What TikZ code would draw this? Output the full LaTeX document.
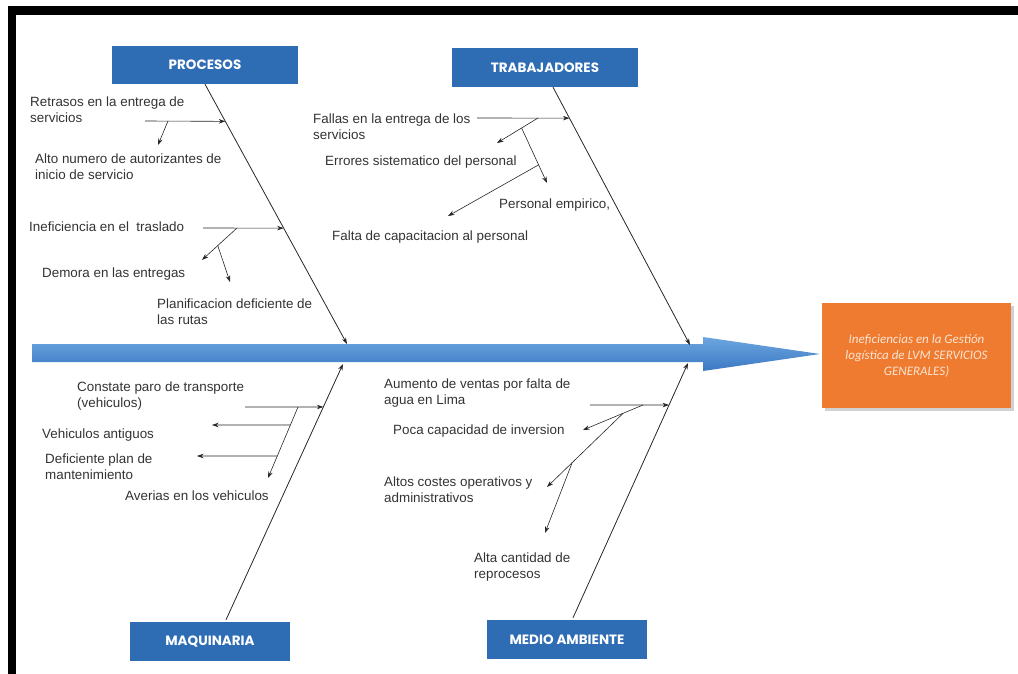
\documentclass[tikz,border=0pt]{standalone}
\usepackage{fontspec}
\setmainfont{Liberation Sans}
\newfontfamily\headfont{Poppins}
\newfontfamily\effectfont{Carlito}
\usetikzlibrary{arrows.meta,calc}
\definecolor{hdrblue}{HTML}{2E6DB4}
\definecolor{efforange}{HTML}{EE7B30}
\definecolor{spinetop}{HTML}{6DA6E0}
\definecolor{spinebot}{HTML}{3A78C2}
\definecolor{labelgray}{HTML}{333333}
\definecolor{efftext}{HTML}{FCE4D2}
\tikzset{
  hdr/.style={fill=hdrblue, text=white, inner sep=0pt, minimum width=186pt, minimum height=38pt,
    font=\headfont\bfseries\fontsize{13.5}{15}\selectfont},
  lbl/.style={anchor=north west, inner sep=0pt, align=left, text=labelgray,
    font=\fontsize{13.4}{15.5}\selectfont},
  arr/.style={-{Stealth[length=6.5pt,width=4.5pt]}, line width=0.6pt, draw=black!85},
  bone/.style={-{Stealth[length=6.5pt,width=4.5pt]}, line width=0.8pt, draw=black!85},
}
\begin{document}
\begin{tikzpicture}[x=1pt,y=-1pt]
\useasboundingbox (0,0) rectangle (1018,674);
% frame
\fill[black] (8,6) rectangle (1018,15);
\fill[black] (8,6) rectangle (16,674);

% spine arrow
\shade[top color=spinetop, bottom color=spinebot]
  (32,344) -- (703,344) -- (703,337) -- (820,354) -- (703,371) -- (703,362) -- (32,362) -- cycle;

% header boxes
\node[hdr] (proc) at (205,65) {PROCESOS};
\node[hdr, minimum height=39pt] (trab) at (545,67.5) {TRABAJADORES};
\node[hdr, minimum width=160pt, minimum height=39pt] (maq) at (210,641.5) {MAQUINARIA};
\node[hdr, minimum width=160pt, minimum height=39pt] (med) at (567,639.5) {MEDIO AMBIENTE};

% effect box
\fill[black!18] (825,306) rectangle (1014,411);
\node[fill=efforange, text=efftext, minimum width=189pt, minimum height=105pt, inner sep=0pt,
  align=center, font=\effectfont\itshape\fontsize{13}{16}\selectfont] (eff) at (916.5,355.5)
  {Ineficiencias en la Gestión\\logística de LVM SERVICIOS\\GENERALES)};

% spine coordinates
\coordinate (sp1) at (347,344);
\coordinate (sp2) at (690,345);
\coordinate (sp3) at (343,364);
\coordinate (sp4) at (688,363);
\coordinate (tS) at ($(trab.south)+(8,0)$);
\coordinate (mS) at ($(maq.north)+(16,-2)$);
\coordinate (aS) at ($(med.north)+(6,-2)$);

% bones
\draw[bone] (proc.south) -- (sp1);
\draw[bone] (tS) -- (sp2);
\draw[bone] (mS) -- (sp3);
\draw[bone] (aS) -- (sp4);

% ---------- PROCESOS ----------
\node[lbl] (l1) at (30,97) {Retrasos en la entrega de\\servicios};
\node[lbl] (l2) at (35,154) {Alto numero de autorizantes de\\inicio de servicio};
\node[lbl] (l3) at (29,222) {Ineficiencia en el\ \ traslado};
\node[lbl] (l4) at (42,268) {Demora en las entregas};
\node[lbl] (l5) at (157,299) {Planificacion deficiente de\\las rutas};

\coordinate (p1) at ($(proc.south)!0.143!(sp1)$);
\coordinate (p1s) at (145,121);
\coordinate (p1b) at (168,121);
\coordinate (p1e) at (158,145);
\draw[arr] (p1s) -- (p1);
\draw[arr] (p1b) -- (p1e);

\coordinate (p2) at ($(proc.south)!0.554!(sp1)$);
\coordinate (p2s) at (203,228);
\coordinate (p2b) at (237,228);
\coordinate (p2e1) at (202,260);
\coordinate (p2c) at ($(p2b)!0.55!(p2e1)$);
\coordinate (p2e2) at (230,282);
\draw[arr] (p2s) -- (p2);
\draw[arr] (p2b) -- (p2e1);
\draw[arr] (p2c) -- (p2e2);

% ---------- TRABAJADORES ----------
\node[lbl] (l6) at (313,114) {Fallas en la entrega de los\\servicios};
\node[lbl] (l7) at (325,156) {Errores sistematico del personal};
\node[lbl] (l8) at (499,199) {Personal empirico,};
\node[lbl] (l9) at (332,231) {Falta de capacitacion al personal};

\coordinate (t1) at ($(tS)!0.12!(sp2)$);
\coordinate (t1s) at (477,118);
\coordinate (t1b) at (538,118);
\coordinate (t1e) at (497,143);
\coordinate (t1c) at ($(t1b)!0.4!(t1e)$);
\coordinate (t2e) at (547,183);
\coordinate (t2c) at ($(t1c)!0.67!(t2e)$);
\coordinate (t3e) at (448,216);
\draw[arr] (t1s) -- (t1);
\draw[arr] (t1b) -- (t1e);
\draw[arr] (t1c) -- (t2e);
\draw[arr] (t2c) -- (t3e);

% ---------- MAQUINARIA ----------
\node[lbl] (l10) at (77,382) {Constate paro de transporte\\(vehiculos)};
\node[lbl] (l11) at (42,429) {Vehiculos antiguos};
\node[lbl] (l12) at (45,454) {Deficiente plan de\\mantenimiento};
\node[lbl] (l13) at (125,491) {Averias en los vehiculos};

\coordinate (m1) at ($(mS)!0.832!(sp3)$);
\coordinate (m1s) at (245,407);
\coordinate (m1b) at (298,407);
\coordinate (m1e) at (268,478);
\coordinate (m2c) at ($(m1b)!0.254!(m1e)$);
\coordinate (m2e) at (212,425);
\coordinate (m3c) at ($(m1b)!0.69!(m1e)$);
\coordinate (m3e) at (197,456);
\draw[arr] (m1s) -- (m1);
\draw[arr] (m1b) -- (m1e);
\draw[arr] (m2c) -- (m2e);
\draw[arr] (m3c) -- (m3e);

% ---------- MEDIO AMBIENTE ----------
\node[lbl] (l14) at (384,379) {Aumento de ventas por falta de\\agua en Lima};
\node[lbl] (l15) at (393,425) {Poca capacidad de inversion};
\node[lbl] (l16) at (384,477) {Altos costes operativos y\\administrativos};
\node[lbl] (l17) at (474,553) {Alta cantidad de\\reprocesos};

\coordinate (a1) at ($(aS)!0.835!(sp4)$);
\coordinate (a1s) at (590,405);
\coordinate (a1b) at (643,405);
\coordinate (a1e) at (583,430);
\coordinate (a2c) at ($(a1b)!0.33!(a1e)$);
\coordinate (a2e) at (547,487);
\coordinate (a3c) at ($(a2c)!0.67!(a2e)$);
\coordinate (a3e) at (545,533);
\draw[arr] (a1s) -- (a1);
\draw[arr] (a1b) -- (a1e);
\draw[arr] (a2c) -- (a2e);
\draw[arr] (a3c) -- (a3e);
\end{tikzpicture}
\end{document}
